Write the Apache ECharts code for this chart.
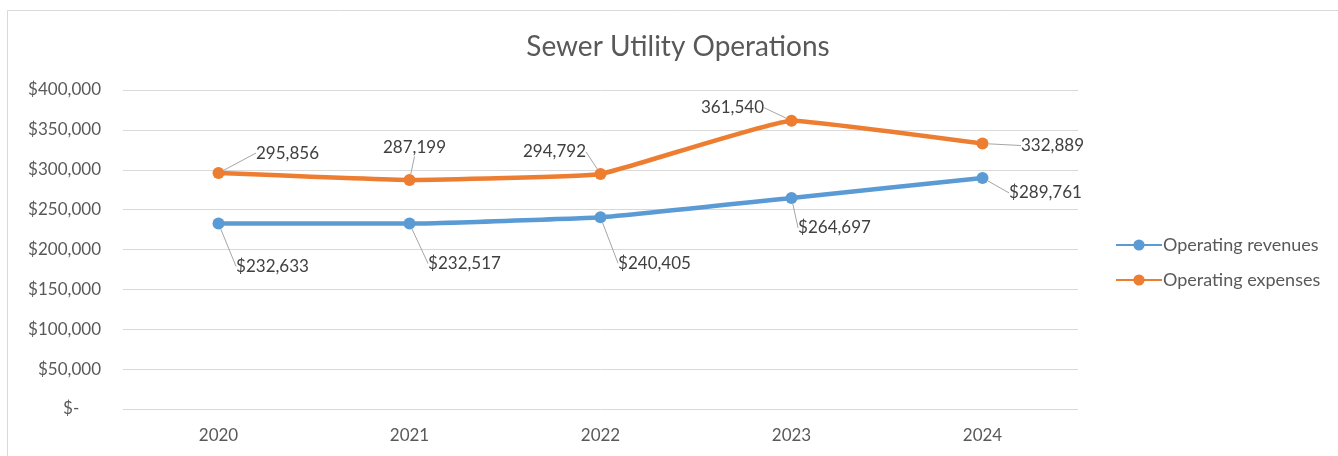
<!DOCTYPE html>
<html>
<head>
<meta charset="utf-8">
<title>Sewer Utility Operations</title>
<script src="https://cdn.jsdelivr.net/npm/echarts@6/dist/echarts.min.js"></script>
<style>
  html, body { margin: 0; padding: 0; background: #fff; }
  #chart { width: 1338px; height: 456px; }
</style>
</head>
<body>
<div id="chart"></div>
<script>
var years = ['2020', '2021', '2022', '2023', '2024'];
var revenues = [232633, 232517, 240405, 264697, 289761];
var expenses = [295856, 287199, 294792, 361540, 332889];
var yTicks = [0, 50000, 100000, 150000, 200000, 250000, 300000, 350000, 400000];

// label offsets (label centre relative to the point)
var revOffsets = [[54, 43], [55, 40], [54, 46], [43, 30], [63, 15]];
var expOffsets = [[69, -20], [5, -32], [-46, -22], [-59, -13], [70, 2]];

var font = 'Lato, "Open Sans", sans-serif';

function money(v) {
    if (v === 0) return '$-     ';
    return '$' + v.toLocaleString('en-US');
}

var chart = echarts.init(document.getElementById('chart'));

var option = {
    backgroundColor: '#fff',
    animation: false,
    textStyle: { fontFamily: font },
    title: {
        text: 'Sewer Utility Operations',
        left: 673,
        textAlign: 'center',
        top: 28,
        textStyle: { fontFamily: font, fontSize: 28, fontWeight: 'normal', color: '#595959' }
    },
    graphic: [{
        type: 'rect',
        shape: { x: 7.5, y: 10.5, width: 1400, height: 500 },
        style: { fill: 'none', stroke: '#d9d9d9', lineWidth: 1 },
        silent: true
    }],
    legend: {
        orient: 'vertical',
        left: 1110,
        top: 231,
        itemWidth: 46,
        itemHeight: 14,
        itemGap: 17,
        textStyle: { fontFamily: font, fontSize: 18, color: '#595959', padding: [0, 0, 0, -4] },
        data: ['Operating revenues', 'Operating expenses']
    },
    grid: { left: 123, right: 260, top: 90, bottom: 47, containLabel: false },
    xAxis: {
        type: 'category',
        data: years,
        boundaryGap: true,
        axisLine: { show: false },
        axisTick: { show: false },
        axisLabel: { fontFamily: font, fontSize: 17, color: '#595959', margin: 18 }
    },
    yAxis: {
        type: 'value',
        min: yTicks[0],
        max: yTicks[yTicks.length - 1],
        interval: yTicks[1] - yTicks[0],
        axisLine: { show: false },
        axisTick: { show: false },
        splitLine: { lineStyle: { color: '#d9d9d9', width: 1 } },
        axisLabel: { fontFamily: font, fontSize: 17, color: '#595959', margin: 22, formatter: money }
    },
    series: [{
        name: 'Operating revenues',
        type: 'line',
        data: revenues,
        smooth: 0.1,
        symbol: 'circle',
        symbolSize: 12,
        lineStyle: { width: 4.5, color: '#5b9bd5' },
        itemStyle: { color: '#5b9bd5' },
        label: {
            show: true, position: 'inside', padding: [4, 6],
            fontFamily: font, fontSize: 17, color: '#404040',
            formatter: function (p) { return money(p.value); }
        },
        labelLine: { show: true, lineStyle: { color: '#a6a6a6', width: 1 } },
        labelLayout: function (p) {
            var o = revOffsets[p.dataIndex];
            return { dx: o[0], dy: o[1] };
        }
    }, {
        name: 'Operating expenses',
        type: 'line',
        data: expenses,
        smooth: 0.1,
        symbol: 'circle',
        symbolSize: 12,
        lineStyle: { width: 4.5, color: '#ed7d31' },
        itemStyle: { color: '#ed7d31' },
        label: {
            show: true, position: 'inside', padding: [4, 6],
            fontFamily: font, fontSize: 17, color: '#404040',
            formatter: function (p) { return p.value.toLocaleString('en-US'); }
        },
        labelLine: { show: true, lineStyle: { color: '#a6a6a6', width: 1 } },
        labelLayout: function (p) {
            var o = expOffsets[p.dataIndex];
            return { dx: o[0], dy: o[1] };
        }
    }]
};

chart.setOption(option);
</script>
</body>
</html>
